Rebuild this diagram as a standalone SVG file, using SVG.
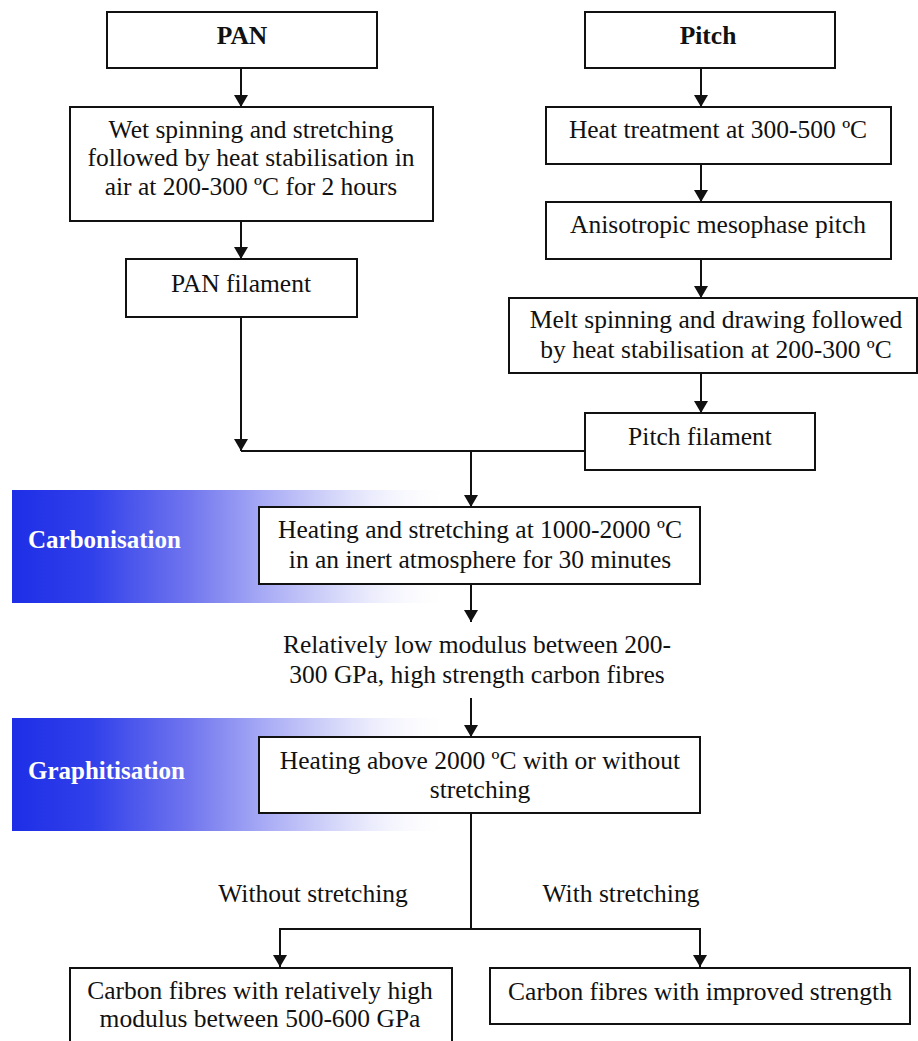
<svg xmlns="http://www.w3.org/2000/svg" width="918" height="1041" viewBox="0 0 918 1041">
<defs>
<linearGradient id="band" x1="0" y1="0" x2="1" y2="0">
<stop offset="0" stop-color="#1e2ee6"/>
<stop offset="0.18" stop-color="#3040ea"/>
<stop offset="0.4" stop-color="#7075ee"/>
<stop offset="0.58" stop-color="#aaadf5"/>
<stop offset="0.78" stop-color="#e2e3fb"/>
<stop offset="1" stop-color="#ffffff" stop-opacity="0"/>
</linearGradient>
<marker id="arr" markerUnits="userSpaceOnUse" markerWidth="13" markerHeight="14" refX="12" refY="7" orient="auto-start-reverse" viewBox="0 0 13 14">
<path d="M0,0 L12,7 L0,14 Z" fill="#111"/>
</marker>
</defs>
<style>
.box{fill:#fff;stroke:#111;stroke-width:2}
.t{font-family:"Liberation Serif","Times New Roman",serif;font-size:25.5px;fill:#111;text-anchor:middle}
.b{font-weight:bold}
.w{font-family:"Liberation Serif","Times New Roman",serif;font-size:25px;font-weight:bold;fill:#fff}
.c{fill:none;stroke:#111;stroke-width:2}
</style>
<rect width="918" height="1041" fill="#fff"/>
<g id="band-carbonisation">
<rect x="12" y="490" width="440" height="113" fill="url(#band)"/>
<text class="w" x="28" y="548">Carbonisation</text>
</g>
<g id="band-graphitisation">
<rect x="12" y="718" width="440" height="113" fill="url(#band)"/>
<text class="w" x="28" y="779">Graphitisation</text>
</g>
<g id="connectors">
<line class="c" x1="241" y1="68" x2="241" y2="107" marker-end="url(#arr)"/>
<line class="c" x1="241" y1="221" x2="241" y2="259" marker-end="url(#arr)"/>
<line class="c" x1="241" y1="317" x2="241" y2="451" marker-end="url(#arr)"/>
<line class="c" x1="701" y1="68" x2="701" y2="107" marker-end="url(#arr)"/>
<line class="c" x1="701" y1="164" x2="701" y2="202" marker-end="url(#arr)"/>
<line class="c" x1="701" y1="259" x2="701" y2="298" marker-end="url(#arr)"/>
<line class="c" x1="701" y1="373" x2="701" y2="413" marker-end="url(#arr)"/>
<polyline class="c" points="241,451 585,451"/>
<line class="c" x1="471" y1="451" x2="471" y2="507" marker-end="url(#arr)"/>
<line class="c" x1="471" y1="584" x2="471" y2="622" marker-end="url(#arr)"/>
<line class="c" x1="471" y1="698" x2="471" y2="737" marker-end="url(#arr)"/>
<line class="c" x1="471" y1="813" x2="471" y2="929"/>
<polyline class="c" points="280,967 280,929 700,929 700,967" marker-start="url(#arr)" marker-end="url(#arr)"/>
</g>
<g id="n-pan">
<rect class="box" x="107" y="12" width="270" height="56"/>
<text class="t b" x="242" y="44">PAN</text>
</g>
<g id="n-wet">
<rect class="box" x="70" y="107" width="363" height="114"/>
<text class="t" x="251" y="138">Wet spinning and stretching</text>
<text class="t" x="251" y="166">followed by heat stabilisation in</text>
<text class="t" x="251" y="195">air at 200-300 ºC for 2 hours</text>
</g>
<g id="n-panfil">
<rect class="box" x="126" y="259" width="231" height="58"/>
<text class="t" x="241" y="292">PAN filament</text>
</g>
<g id="n-pitch">
<rect class="box" x="585" y="12" width="250" height="56"/>
<text class="t b" x="708" y="44">Pitch</text>
</g>
<g id="n-heat">
<rect class="box" x="546" y="107" width="345" height="57"/>
<text class="t" x="718" y="138">Heat treatment at 300-500 ºC</text>
</g>
<g id="n-aniso">
<rect class="box" x="546" y="202" width="345" height="57"/>
<text class="t" x="718" y="233">Anisotropic mesophase pitch</text>
</g>
<g id="n-melt">
<rect class="box" x="509" y="298" width="408" height="75"/>
<text class="t" x="716" y="328">Melt spinning and drawing followed</text>
<text class="t" x="716" y="358">by heat stabilisation at 200-300 ºC</text>
</g>
<g id="n-pitchfil">
<rect class="box" x="585" y="413" width="230" height="57"/>
<text class="t" x="700" y="445">Pitch filament</text>
</g>
<g id="n-carb">
<rect class="box" x="259" y="507" width="441" height="77"/>
<text class="t" x="480" y="538">Heating and stretching at 1000-2000 ºC</text>
<text class="t" x="480" y="568">in an inert atmosphere for 30 minutes</text>
</g>
<g id="n-lowmod">
<text class="t" x="477" y="653">Relatively low modulus between 200-</text>
<text class="t" x="477" y="683">300 GPa, high strength carbon fibres</text>
</g>
<g id="n-graph">
<rect class="box" x="259" y="737" width="441" height="76"/>
<text class="t" x="480" y="769">Heating above 2000 ºC with or without</text>
<text class="t" x="480" y="798">stretching</text>
</g>
<g id="labels">
<text class="t" x="313" y="902">Without stretching</text>
<text class="t" x="621" y="902">With stretching</text>
</g>
<g id="n-highmod">
<rect class="box" x="70" y="968" width="382" height="80"/>
<text class="t" x="260" y="999">Carbon fibres with relatively high</text>
<text class="t" x="260" y="1027">modulus between 500-600 GPa</text>
</g>
<g id="n-strength">
<rect class="box" x="490" y="968" width="420" height="56"/>
<text class="t" x="700" y="1000">Carbon fibres with improved strength</text>
</g>
</svg>
